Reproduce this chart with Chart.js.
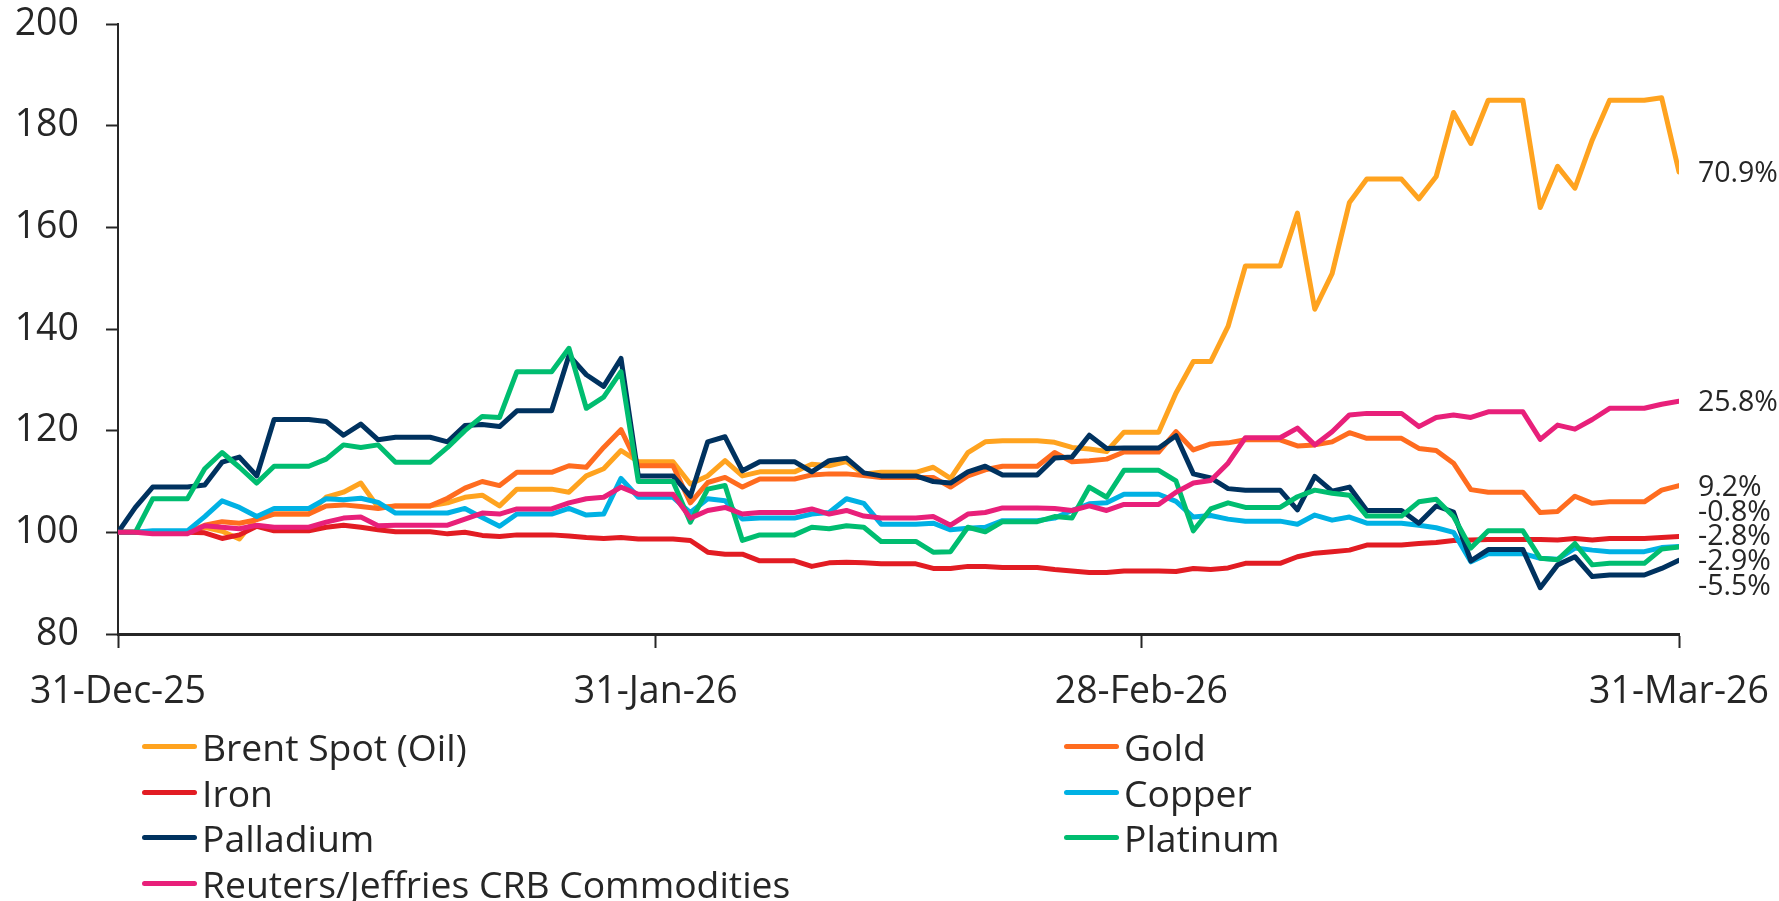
<!DOCTYPE html>
<html>
<head>
<meta charset="utf-8">
<script src="https://cdn.jsdelivr.net/npm/chart.js@4.4.1/dist/chart.umd.min.js"></script>
<style>
  html, body { margin: 0; padding: 0; background: #ffffff; }
  #wrap { position: relative; width: 1779px; height: 901px; overflow: hidden; }
  #c { position: absolute; left: 0; top: 0; }
  #legend { position: absolute; left: 142px; top: 724px; display: grid;
            grid-template-columns: 922px auto; grid-auto-rows: 45.5px;
            font-family: "Open Sans", sans-serif; font-size: 37.3px; color: #262626; }
  .li { display: flex; align-items: center; white-space: nowrap; }
  .mk { width: 55px; height: 5px; border-radius: 3px; margin-right: 5px; }
</style>
</head>
<body>
<div id="wrap">
  <canvas id="c" width="1779" height="901"></canvas>
  <div id="legend"></div>
</div>
<script>
// ---- Data (index = days since 31-Dec-25, daily) ----
const xTickDays = [0, 31, 59, 90];
const xTickLabels = ['31-Dec-25', '31-Jan-26', '28-Feb-26', '31-Mar-26'];
const yTicks = [80, 100, 120, 140, 160, 180, 200];

const seriesNames = ['Brent Spot (Oil)', 'Gold', 'Iron', 'Copper', 'Palladium', 'Platinum', 'Reuters/Jeffries CRB Commodities'];
const seriesColors = ['#FFA31F', '#FF6C1F', '#E21C23', '#00B1E4', '#00325F', '#00BD70', '#E8207A'];
const endLabels = ['70.9%', '9.2%', '-0.8%', '-2.8%', '-5.5%', '-2.9%', '25.8%'];

const brent = [100,100,100,100,100,101,100.2,98.7,103,103.6,
  103.6,103.6,106.9,107.9,109.7,104.9,105.2,105.2,105.2,105.8,
  106.9,107.3,105.2,108.5,108.5,108.5,107.9,111.1,112.5,116.1,
  113.9,113.9,113.9,109.5,111.1,114.1,111.1,111.9,111.9,111.9,
  113.4,113.1,113.9,111.5,111.8,111.8,111.8,112.8,110.6,115.7,
  117.8,118,118,118,117.7,116.7,116.4,115.9,119.7,119.7,
  119.7,127.4,133.6,133.6,140.5,152.4,152.4,152.4,162.8,143.9,
  150.9,164.9,169.5,169.5,169.5,165.6,170,182.6,176.5,185,
  185,185,163.9,172,167.7,177.2,185,185,185,185.5,
  170.9];
const gold = [100,100,100,100,100,101.4,102.1,101.8,102.5,103.6,
  103.6,103.6,105.2,105.4,105.1,104.7,105.2,105.2,105.2,106.7,
  108.7,110,109.2,111.8,111.8,111.8,113.1,112.8,116.7,120.2,
  113.1,113.1,113.1,105.8,109.8,110.8,108.9,110.5,110.5,110.5,
  111.3,111.5,111.5,111.2,110.8,110.8,110.8,110.8,108.9,111.1,
  112.3,113,113,113,115.7,113.9,114.1,114.4,115.8,115.8,
  115.8,119.8,116.2,117.4,117.6,118.2,118.2,118.2,117,117.2,
  117.8,119.6,118.5,118.5,118.5,116.5,116.1,113.6,108.4,107.9,
  107.9,107.9,103.9,104.1,107.1,105.7,106,106,106,108.3,
  109.2];
const iron = [100,100,100,100,100,99.9,98.8,99.5,101.2,100.3,
  100.3,100.3,101,101.4,101,100.5,100.1,100.1,100.1,99.7,
  100,99.4,99.2,99.5,99.5,99.5,99.3,99,98.8,99,
  98.7,98.7,98.7,98.4,96.1,95.7,95.7,94.4,94.4,94.4,
  93.3,94,94.1,94,93.8,93.8,93.8,92.9,92.9,93.3,
  93.3,93.1,93.1,93.1,92.7,92.4,92.1,92.1,92.4,92.4,
  92.4,92.3,92.9,92.7,93,93.9,93.9,93.9,95.2,95.9,
  96.2,96.5,97.5,97.5,97.5,97.8,98,98.4,98.5,98.6,
  98.6,98.6,98.6,98.5,98.8,98.5,98.8,98.8,98.8,99,
  99.2];
const copper = [100,100,100.3,100.3,100.3,103.1,106.2,104.9,103.1,104.7,
  104.7,104.7,106.6,106.4,106.7,105.9,103.8,103.8,103.8,103.8,
  104.7,102.9,101.2,103.6,103.6,103.6,104.7,103.4,103.6,110.6,
  106.9,106.9,106.9,103.9,106.6,106.2,102.6,102.8,102.8,102.8,
  103.6,103.9,106.6,105.7,101.6,101.6,101.6,101.8,100.5,100.8,
  101,102.3,102.3,102.3,102.8,104.3,105.6,105.8,107.5,107.5,
  107.5,106.1,103,103.3,102.6,102.2,102.2,102.2,101.6,103.4,
  102.4,103,101.8,101.8,101.8,101.4,100.9,100,94.2,95.8,
  95.8,95.8,94.9,94.7,96.9,96.5,96.2,96.2,96.2,97,
  97.2];
const palladium = [100,104.9,108.9,108.9,108.9,109.3,113.8,114.8,111.1,122.2,
  122.2,122.2,121.8,119.1,121.3,118.2,118.7,118.7,118.7,117.8,
  121,121.2,120.8,123.9,123.9,123.9,134.8,131,128.7,134.2,
  111.1,111.1,111.1,107.1,117.8,118.8,112.1,113.9,113.9,113.9,
  111.9,114.1,114.6,111.7,111.1,111.1,111.1,110,109.7,111.9,
  113,111.3,111.3,111.3,114.6,114.8,119.1,116.5,116.6,116.6,
  116.6,119,111.5,110.7,108.6,108.3,108.3,108.3,104.4,111,
  108.1,108.9,104.3,104.3,104.3,101.8,105.2,104,94.4,96.6,
  96.6,96.6,89.1,93.6,95.2,91.3,91.6,91.6,91.6,92.9,
  94.5];
const platinum = [100,100,106.6,106.6,106.6,112.5,115.7,112.8,109.7,113,
  113,113,114.4,117.2,116.7,117.2,113.8,113.8,113.8,116.7,
  120,122.8,122.6,131.6,131.6,131.6,136.2,124.4,126.6,131.6,
  110,110,110,102,108.5,109.2,98.4,99.5,99.5,99.5,
  101,100.7,101.3,101,98.2,98.2,98.2,96.1,96.2,101,
  100.1,102.1,102.1,102.1,103.1,102.8,108.9,106.9,112.2,112.2,
  112.2,110.1,100.3,104.6,105.8,104.9,104.9,104.9,107,108.3,
  107.7,107.3,103.2,103.2,103.2,106,106.5,103.1,96.9,100.3,
  100.3,100.3,94.9,94.6,97.8,93.6,93.9,93.9,93.9,96.7,
  97.1];
const crb = [100,100,99.7,99.7,99.7,101.3,101,100.7,101.4,101,
  101,101,102,102.8,103,101.3,101.4,101.4,101.4,101.4,
  102.6,103.8,103.6,104.6,104.6,104.6,105.8,106.6,106.9,108.9,
  107.5,107.5,107.5,102.8,104.3,104.9,103.6,103.9,103.9,103.9,
  104.6,103.6,104.3,103.2,102.8,102.8,102.8,103.1,101.4,103.6,
  103.9,104.8,104.8,104.8,104.7,104.3,105.2,104.3,105.5,105.5,
  105.5,107.9,109.7,110.2,113.6,118.6,118.6,118.6,120.5,117.2,
  119.8,123.1,123.4,123.4,123.4,120.8,122.6,123.1,122.6,123.7,
  123.7,123.7,118.3,121.1,120.3,122.2,124.4,124.4,124.4,125.2,
  125.8];

const seriesValues = [brent, gold, iron, copper, palladium, platinum, crb];

// ---- Build chart ----
const textColor = '#262626';
const axisColor = '#262626';
const tickFont = { family: 'Open Sans', size: 37.5 };
const endFontSize = 28.5;

const datasets = seriesValues.map((vals, i) => ({
  label: seriesNames[i],
  data: vals.map((v, d) => ({ x: d, y: v })),
  borderColor: seriesColors[i],
  backgroundColor: seriesColors[i],
  borderWidth: 5,
  pointRadius: 0,
  tension: 0,
  fill: false,
  order: seriesValues.length - 1 - i,
  endLabel: endLabels[i]
}));

const endLabelPlugin = {
  id: 'endLabels',
  afterDatasetsDraw(chart) {
    const ctx = chart.ctx;
    const gap = 24.7;
    const items = [];
    chart.data.datasets.forEach((ds, i) => {
      const meta = chart.getDatasetMeta(i);
      const pt = meta.data[meta.data.length - 1];
      items.push({ y: pt.y, text: ds.endLabel });
    });
    items.sort((a, b) => a.y - b.y);
    let groups = items.map(it => ({ items: [it], center: it.y }));
    let changed = true;
    while (changed) {
      changed = false;
      for (let i = 0; i < groups.length - 1; i++) {
        const g1 = groups[i], g2 = groups[i + 1];
        const b1 = g1.center + (g1.items.length - 1) * gap / 2;
        const t2 = g2.center - (g2.items.length - 1) * gap / 2;
        if (t2 - b1 < gap) {
          const its = g1.items.concat(g2.items);
          const c = its.reduce((s, it) => s + it.y, 0) / its.length;
          groups.splice(i, 2, { items: its, center: c });
          changed = true;
          break;
        }
      }
    }
    ctx.save();
    ctx.font = endFontSize + 'px "Open Sans"';
    ctx.fillStyle = textColor;
    ctx.textAlign = 'left';
    ctx.textBaseline = 'alphabetic';
    const x = chart.chartArea.right + 19;
    groups.forEach(g => g.items.forEach((it, k) => {
      const ly = g.center + (k - (g.items.length - 1) / 2) * gap;
      ctx.fillText(it.text, x, ly + 0.357 * endFontSize);
    }));
    ctx.restore();
  }
};

const chart = new Chart(document.getElementById('c'), {
  type: 'line',
  data: { datasets },
  plugins: [endLabelPlugin],
  options: {
    responsive: false,
    animation: false,
    devicePixelRatio: 1,
    layout: { padding: { left: 0, right: 100, top: 24, bottom: 0 } },
    plugins: { legend: { display: false }, tooltip: { enabled: false } },
    elements: { line: { borderCapStyle: 'round', borderJoinStyle: 'round' } },
    scales: {
      x: {
        type: 'linear', min: 0, max: 90,
        afterBuildTicks: (s) => { s.ticks = xTickDays.map(v => ({ value: v })); },
        afterFit: (s) => { s.height = 267; s.paddingLeft = 0; s.paddingRight = 0; },
        ticks: {
          autoSkip: false, maxRotation: 0, minRotation: 0,
          font: tickFont, color: textColor, padding: 22,
          callback: (v, idx) => xTickLabels[idx]
        },
        grid: { drawOnChartArea: false, drawTicks: true, tickLength: 14, tickWidth: 2, tickColor: axisColor },
        border: { display: true, color: axisColor, width: 3 }
      },
      y: {
        min: 80, max: 200,
        afterBuildTicks: (s) => { s.ticks = yTicks.map(v => ({ value: v })); },
        afterFit: (s) => { s.width = 118; s.paddingTop = 0; s.paddingBottom = 0; },
        ticks: { font: tickFont, color: textColor, padding: 27 },
        grid: { drawOnChartArea: false, drawTicks: true, tickLength: 12, tickWidth: 2, tickColor: axisColor },
        border: { display: true, color: axisColor, width: 2 }
      }
    }
  }
});

// ---- HTML legend built from the chart datasets ----
const legend = document.getElementById('legend');
chart.data.datasets.forEach(ds => {
  const li = document.createElement('div');
  li.className = 'li';
  const mk = document.createElement('span');
  mk.className = 'mk';
  mk.style.background = ds.borderColor;
  const tx = document.createElement('span');
  tx.textContent = ds.label;
  li.appendChild(mk); li.appendChild(tx);
  legend.appendChild(li);
});
</script>
</body>
</html>
